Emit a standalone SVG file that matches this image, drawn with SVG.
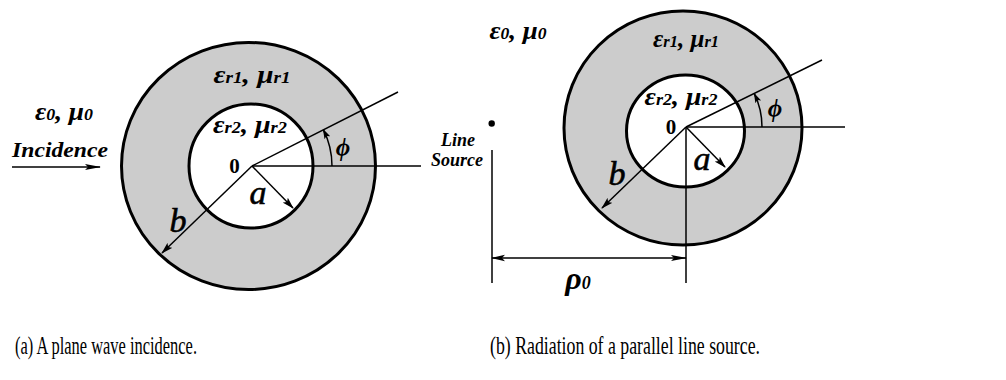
<svg xmlns="http://www.w3.org/2000/svg" width="1006" height="380" viewBox="0 0 1006 380">
<style>
.bg{fill:#fff}
.ring{fill:#cccccc;stroke:#000;stroke-width:3}
.core{fill:#fff;stroke:#000;stroke-width:3}
.ln{fill:none;stroke:#000;stroke-width:1.5}
.lbl{font-family:"Liberation Serif",serif;font-weight:bold;font-style:italic;fill:#000}
.gk{font-size:26px}
.sub{font-size:17px}
.zero{font-family:"Liberation Serif",serif;font-weight:bold;font-size:21px;fill:#000}
.var{font-family:"Liberation Serif",serif;font-style:italic;font-size:34px;fill:#000;stroke:#000;stroke-width:0.6}
.cap{font-family:"Liberation Serif",serif;font-size:26px;fill:#000}
</style>
<defs>
<marker id="ah" markerUnits="userSpaceOnUse" markerWidth="12" markerHeight="8" refX="11" refY="4" orient="auto">
<path d="M0,0.5 L12,4 L0,7.5 L2.5,4 z" fill="#000"/>
</marker>
<marker id="ahs" markerUnits="userSpaceOnUse" markerWidth="10" markerHeight="8" refX="9" refY="4" orient="auto">
<path d="M0,0.8 L10,4 L0,7.2 L2,4 z" fill="#000"/>
</marker>
<marker id="ahl" markerUnits="userSpaceOnUse" markerWidth="16" markerHeight="8" refX="15" refY="4" orient="auto">
<path d="M0,1 L16,4 L0,7 L3,4 z" fill="#000"/>
</marker>
<marker id="ahr" markerUnits="userSpaceOnUse" markerWidth="14" markerHeight="8" refX="1" refY="4" orient="auto">
<path d="M14,0.8 L0,4 L14,7.2 L11,4 z" fill="#000"/>
</marker>
</defs>
<rect class="bg" x="0" y="0" width="1006" height="380"/>

<g id="figA">
<g id="a-outer"><ellipse class="ring" cx="248.5" cy="166" rx="127" ry="123.5"/></g>
<g id="a-inner"><circle class="core" cx="251" cy="166" r="62"/></g>
<g id="a-connectors">
<line class="ln" x1="252" y1="166" x2="421" y2="166"/>
<line class="ln" x1="252" y1="166" x2="398" y2="92"/>
<path class="ln" d="M332,166 A80,80 0 0 0 323.3,129.7" marker-end="url(#ahs)"/>
<line class="ln" x1="252" y1="166" x2="293" y2="208" marker-end="url(#ah)"/>
<line class="ln" x1="252" y1="166" x2="162" y2="253" marker-end="url(#ah)"/>
<line class="ln" x1="12" y1="167" x2="100" y2="167" marker-end="url(#ahl)"/>
</g>
<g id="a-labels">
<text class="lbl gk" x="252" y="83" text-anchor="middle" textLength="77" lengthAdjust="spacingAndGlyphs">ε<tspan class="sub">r1</tspan>, μ<tspan class="sub">r1</tspan></text>
<text class="lbl gk" x="250" y="133" text-anchor="middle" textLength="74" lengthAdjust="spacingAndGlyphs">ε<tspan class="sub">r2</tspan>, μ<tspan class="sub">r2</tspan></text>
<text class="lbl gk" x="64" y="120" text-anchor="middle" textLength="58" lengthAdjust="spacingAndGlyphs">ε<tspan class="sub">0</tspan>, μ<tspan class="sub">0</tspan></text>
<text class="lbl" x="12" y="157" font-size="22" textLength="96" lengthAdjust="spacingAndGlyphs">Incidence</text>
<text class="zero" x="234.5" y="173" text-anchor="middle">0</text>
<text class="lbl" x="343" y="156" font-size="25" text-anchor="middle">ϕ</text>
<text class="var" x="258" y="204" text-anchor="middle">a</text>
<text class="var" x="178" y="232" text-anchor="middle">b</text>
</g>
</g>

<g id="figB">
<g id="b-outer"><ellipse class="ring" cx="683" cy="128" rx="119" ry="117"/></g>
<g id="b-inner"><ellipse class="core" cx="685.5" cy="131" rx="59" ry="56"/></g>
<g id="b-source"><circle cx="491.7" cy="123.5" r="3.2" fill="#000"/></g>
<g id="b-connectors">
<line class="ln" x1="686" y1="127" x2="845" y2="127"/>
<line class="ln" x1="686" y1="127" x2="822" y2="60"/>
<path class="ln" d="M762,127 A76,76 0 0 0 754.3,93.7" marker-end="url(#ahs)"/>
<line class="ln" x1="686" y1="127" x2="725" y2="167" marker-end="url(#ah)"/>
<line class="ln" x1="686" y1="127" x2="602" y2="208" marker-end="url(#ah)"/>
<line class="ln" x1="686" y1="127" x2="686" y2="283"/>
<line class="ln" x1="492" y1="150" x2="492" y2="283"/>
<line class="ln" x1="492" y1="258" x2="686" y2="258" marker-start="url(#ahr)" marker-end="url(#ahl)"/>
</g>
<g id="b-labels">
<text class="lbl gk" x="518" y="39" text-anchor="middle" textLength="57" lengthAdjust="spacingAndGlyphs">ε<tspan class="sub">0</tspan>, μ<tspan class="sub">0</tspan></text>
<text class="lbl gk" x="686" y="47" text-anchor="middle" textLength="66" lengthAdjust="spacingAndGlyphs">ε<tspan class="sub">r1</tspan>, μ<tspan class="sub">r1</tspan></text>
<text class="lbl gk" x="681" y="105" text-anchor="middle" textLength="73" lengthAdjust="spacingAndGlyphs">ε<tspan class="sub">r2</tspan>, μ<tspan class="sub">r2</tspan></text>
<text class="lbl" x="458" y="146" font-size="18" text-anchor="middle">Line</text>
<text class="lbl" x="457" y="166" font-size="18" text-anchor="middle">Source</text>
<text class="zero" x="671" y="134" text-anchor="middle">0</text>
<text class="lbl" x="775" y="117" font-size="25" text-anchor="middle">ϕ</text>
<text class="var" x="702" y="170" text-anchor="middle">a</text>
<text class="var" x="617" y="185" text-anchor="middle">b</text>
<text class="lbl" x="578" y="289" font-size="32" text-anchor="middle">ρ<tspan font-size="18">0</tspan></text>
</g>
</g>

<g id="captions">
<text class="cap" x="15" y="354" textLength="182" lengthAdjust="spacingAndGlyphs">(a) A plane wave incidence.</text>
<text class="cap" x="490" y="354" textLength="270" lengthAdjust="spacingAndGlyphs">(b) Radiation of a parallel line source.</text>
</g>
</svg>
